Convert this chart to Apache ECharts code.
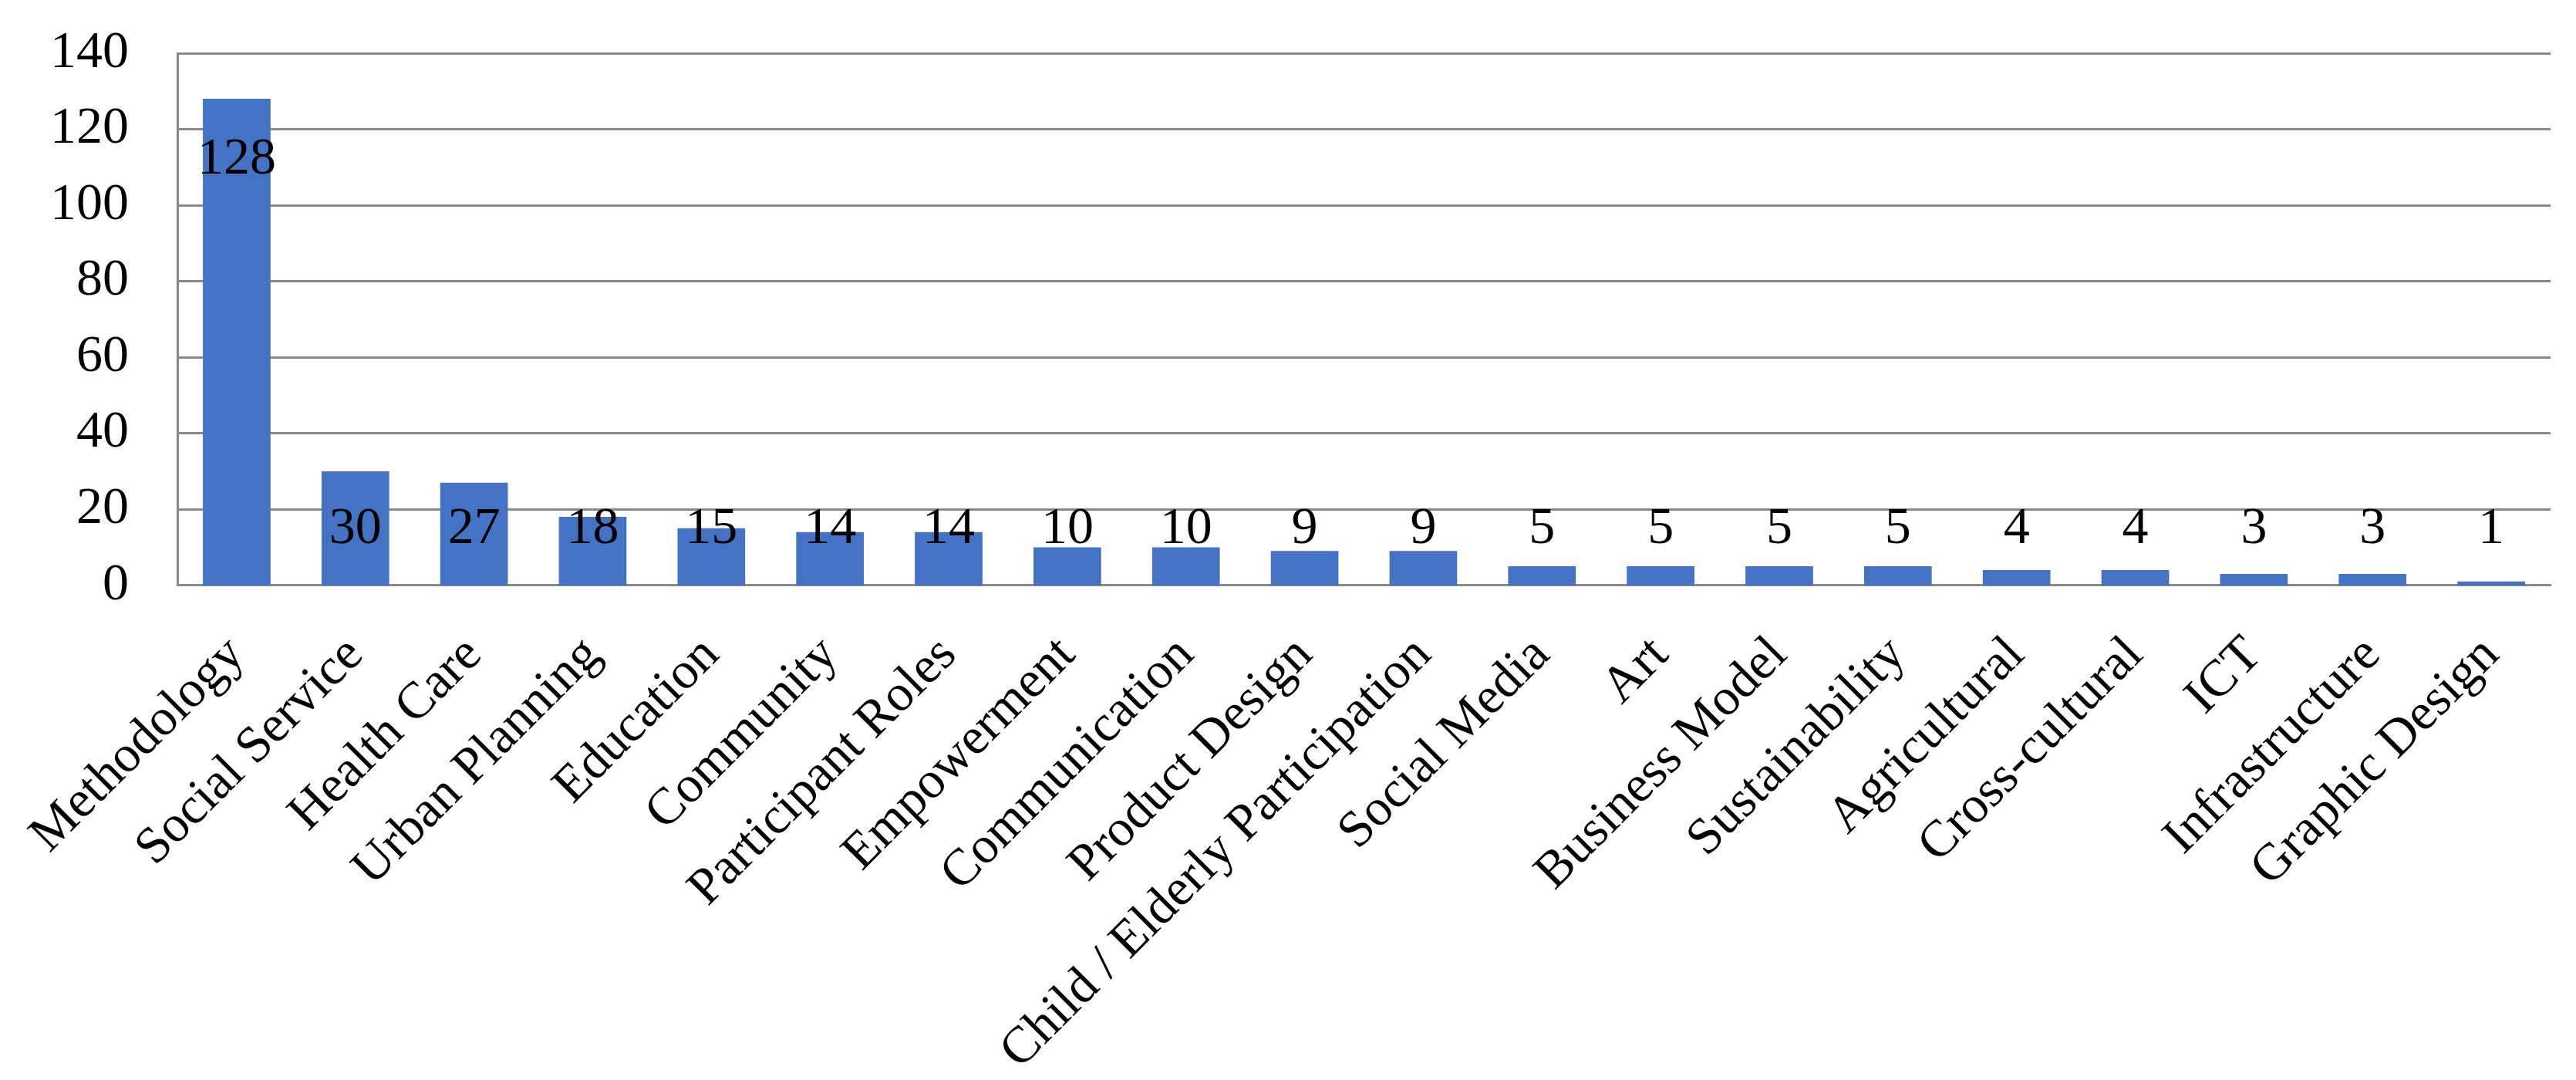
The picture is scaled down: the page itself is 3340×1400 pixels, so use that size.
<!DOCTYPE html>
<html>
<head>
<meta charset="utf-8">
<title>Topics</title>
<script src="https://cdn.jsdelivr.net/npm/echarts@6/dist/echarts.min.js"></script>
<style>
  html, body { margin: 0; padding: 0; background: #fff; }
  #chart { width: 3340px; height: 1400px; }
</style>
</head>
<body>
<div id="chart"></div>
<script>
// categories and counts
var categories = ['Methodology', 'Social Service', 'Health Care', 'Urban Planning', 'Education',
  'Community', 'Participant Roles', 'Empowerment', 'Communication', 'Product Design',
  'Child / Elderly Participation', 'Social Media', 'Art', 'Business Model', 'Sustainability',
  'Agricultural', 'Cross-cultural', 'ICT', 'Infrastructure', 'Graphic Design'];
var counts = [128, 30, 27, 18, 15, 14, 14, 10, 10, 9, 9, 5, 5, 5, 5, 4, 4, 3, 3, 1];
var yTicks = [0, 20, 40, 60, 80, 100, 120, 140];

var FONT = 'Liberation Serif';
var GRAY = '#898989';

// labels sit inside the top of tall bars, on a common row for the short ones
var barData = counts.map(function (v) {
  return {
    value: v,
    label: v > 40 ? { position: 'insideTop', distance: 45 } : { position: 'insideBottom', distance: 39 }
  };
});

var chart = echarts.init(document.getElementById('chart'));
var option = {
  animation: false,
  backgroundColor: '#fff',
  grid: { left: 230, right: 33, top: 69, bottom: 628, containLabel: false },
  xAxis: {
    type: 'category',
    data: categories,
    axisLine: { show: true, lineStyle: { color: GRAY, width: 3 } },
    axisTick: { show: false },
    axisLabel: {
      interval: 0,
      rotate: 45,
      margin: 80,
      fontFamily: FONT,
      fontSize: 67,
      color: '#000'
    }
  },
  yAxis: {
    type: 'value',
    min: yTicks[0],
    max: yTicks[yTicks.length - 1],
    interval: 20,
    axisLine: { show: true, lineStyle: { color: GRAY, width: 3 } },
    axisTick: { show: false },
    splitLine: { lineStyle: { color: GRAY, width: 3 } },
    axisLabel: {
      margin: 63,
      fontFamily: FONT,
      fontSize: 68,
      color: '#000',
      padding: [0, 0, 10, 0]
    }
  },
  series: [{
    type: 'bar',
    data: barData,
    barCategoryGap: '43%',
    itemStyle: { color: '#4472C4' },
    label: {
      show: true,
      fontFamily: FONT,
      fontSize: 68,
      color: '#000'
    }
  }]
};
chart.setOption(option);
</script>
</body>
</html>
